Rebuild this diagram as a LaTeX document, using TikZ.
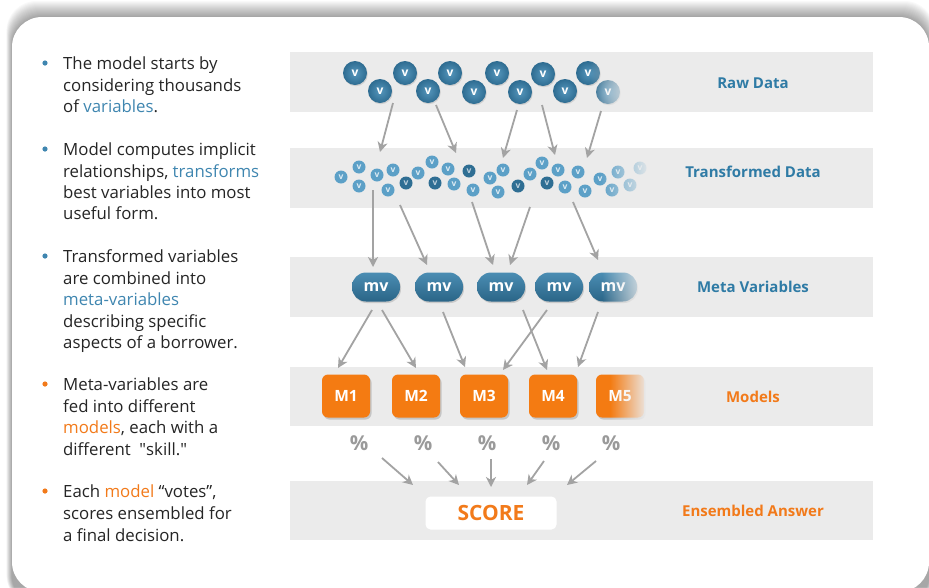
\documentclass[tikz,border=0pt]{standalone}
\usepackage{fontspec}
\setmainfont{Open Sans}
\newfontfamily\plainos{Open Sans}
\usetikzlibrary{arrows.meta,fadings,shadows}
\definecolor{tblue}{HTML}{3F86B0}
\definecolor{lblue}{HTML}{2F7BA5}
\definecolor{torange}{HTML}{F27A1A}
\definecolor{morange}{HTML}{F47B12}
\definecolor{bandgray}{HTML}{EBEBEB}
\definecolor{arrowgray}{HTML}{A3A3A3}
\definecolor{pctgray}{HTML}{9A9A9A}
\definecolor{txt}{HTML}{252525}
\definecolor{rawin}{HTML}{5596BC}
\definecolor{rawout}{HTML}{2E6C91}
\definecolor{trblue}{HTML}{5CA0C7}
\definecolor{trdark}{HTML}{2F6E93}
\definecolor{mvtop}{HTML}{4B8DB3}
\definecolor{mvbot}{HTML}{2A6587}
\tikzfading[name=fadeR, left color=transparent!100, right color=transparent!0]
\tikzset{
  rawc/.style={circle, minimum size=24pt, inner sep=0pt, inner color=rawin, outer color=rawout,
    text=white, font=\bfseries\fontsize{12}{12}\selectfont,
    drop shadow={shadow xshift=0.8pt, shadow yshift=-1.2pt, opacity=0.25}},
  trc/.style={circle, minimum size=13pt, inner sep=0pt, fill=trblue, text=white!80!trblue,
    font=\bfseries\fontsize{8.5}{8.5}\selectfont},
  trd/.style={trc, fill=trdark, text=white!70!trdark},
  mvbox/.style={rectangle, rounded corners=14pt, minimum width=48pt, minimum height=29pt,
    top color=mvtop, bottom color=mvbot, text=white, font=\bfseries\fontsize{16}{16}\selectfont,
    drop shadow={shadow xshift=1pt, shadow yshift=-1.5pt, opacity=0.3}},
  mbox/.style={rectangle, rounded corners=6pt, minimum width=48pt, minimum height=43pt,
    fill=morange, text=white, font=\bfseries\fontsize{15.5}{15.5}\selectfont,
    drop shadow={shadow xshift=1.5pt, shadow yshift=-2pt, opacity=0.35}},
  arr/.style={draw=arrowgray, line width=1.8pt, -{Stealth[length=10pt,width=10pt,inset=3pt]}},
  lab/.style={font=\bfseries\fontsize{15}{15}\selectfont},
  pct/.style={text=pctgray, font=\bfseries\fontsize{20.5}{20.5}\selectfont},
  line/.style={anchor=base west, inner sep=0pt, text=txt, font=\fontsize{16.8}{16.8}\selectfont},
}
\begin{document}
\begin{tikzpicture}[x=1pt,y=-1pt]
\useasboundingbox (0,0) rectangle (929,587);
\fill[white] (0,0) rectangle (929,587);
% card shadow
\foreach \i in {1,...,16}{
  \fill[black, opacity=0.025, rounded corners=30pt] (12-\i*0.35,17-\i) rectangle (929+\i*0.35,605);
}
\fill[white, rounded corners=30pt] (12,17) rectangle (929,592);
% bullets text
\foreach \name/\yy/\txt in {
  l1/64/{The model starts by},
  l2/86/{considering thousands},
  l3/107/{of \textcolor{tblue}{variables}.},
  l4/150/{Model computes implicit},
  l5/172/{relationships, \textcolor{tblue}{transforms}},
  l6/193/{best variables into most},
  l7/214/{useful form.},
  l8/257/{Transformed variables},
  l9/279/{are combined into},
  l10/300/{\textcolor{tblue}{meta-variables}},
  l11/322/{describing specific},
  l12/343/{aspects of a borrower.},
  l13/385/{Meta-variables are},
  l14/407/{fed into different},
  l15/428/{\textcolor{torange}{models}, each with a},
  l16/450/{different\ \ {\plainos"}skill.{\plainos"}},
  l17/492/{Each \textcolor{torange}{model} ``votes'',},
  l18/514/{scores ensembled for},
  l19/536/{a final decision.}}{
  \node[line] (\name) at (63,\yy+5.5) {\txt};
}
\foreach \yy/\c in {63/tblue,149/tblue,256/tblue,384/torange,491/torange}{
  \fill[\c] (45,\yy) circle (2.6pt);
}
% bands
\fill[bandgray] (290,52) rectangle (873,112);
\fill[bandgray] (290,148) rectangle (873,208);
\fill[bandgray] (290,257) rectangle (873,317);
\fill[bandgray] (290,367) rectangle (873,426);
\fill[bandgray] (290,481) rectangle (873,540);
% labels
\node[lab, text=lblue] (lraw) at (753,83) {Raw Data};
\node[lab, text=lblue] (ltr) at (753,172) {Transformed Data};
\node[lab, text=lblue] (lmv) at (753,287) {Meta Variables};
\node[lab, text=torange] (lmod) at (753,397) {Models};
\node[lab, text=torange] (lens) at (753,511) {Ensembled Answer};
% raw data
\foreach \name/\xx/\yy in {r1/355/73, r2/405/73, r3/450/73, r4/497/73, r5/543/74, r6/588/73,
  r7/380/91, r8/428/91, r9/474/92, r10/520/92, r11/565/91, r12/608/92}{
  \node[rawc] (\name) at (\xx,\yy) {v};
}
\fill[bandgray, path fading=fadeR] (590,52) rectangle (630,112);
% transformed
\foreach \name/\xx/\yy in {t1/341/177, t2/359/167, t3/359/186, t4/377/175, t5/388/190, t6/393/170,
  t8/418/173, t9/432/162, t11/448/169, t12/454/184, t14/473/190, t15/490/178,
  t16/498/192, t17/503/170, t19/530/174, t20/542/163, t22/558/170, t23/565/187, t24/578/172,
  t25/585/191, t26/600/179, t27/612/190, t28/618/172, t29/630/185, t30/640/168}{
  \node[trc] (\name) at (\xx,\yy) {v};
}
\foreach \name/\xx/\yy in {t7/406/183, t10/435/183, t13/469/171, t18/518/186, t21/547/183}{
  \node[trd] (\name) at (\xx,\yy) {v};
}
\fill[bandgray, path fading=fadeR] (600,148) rectangle (652,208);
% meta variables
\foreach \name/\xx in {m1/376, m2/439, m3/501, m4/559, m5/613}{
  \node[mvbox] (\name) at (\xx,287) {mv};
}
\fill[bandgray, path fading=fadeR] (602,257) rectangle (648,317);
% models
\foreach \name/\xx/\t in {M1/346/M1, M2/416/M2, M3/484/M3, M4/553/M4, M5/620/M5}{
  \node[mbox] (\name) at (\xx,396) {\t};
}
\fill[bandgray, path fading=fadeR] (610,367) rectangle (648,426);
% percents
\foreach \name/\xx in {p1/359, p2/423, p3/487, p4/551, p5/611}{
  \node[pct] (\name) at (\xx,443) {\%};
}
% score
\node[rectangle, rounded corners=5pt, fill=white, minimum width=131pt, minimum height=33pt,
  text=torange, font=\bfseries\fontsize{21}{21}\selectfont] (score) at (491,513) {SCORE};
% arrows
\foreach \s/\sx/\sy/\e/\ex/\ey in {
  a1s/393/103/a1e/380/152, a2s/436/105/a2e/456/153, a3s/517/110/a3e/503/158,
  a4s/542/105/a4e/555/155, a5s/601/111/a5e/587/158,
  b1s/373/190/b1e/373/267, b2s/400/205/b2e/427/265, b3s/472/202/b3e/493/265,
  b4s/530/207/b4e/510/265, b5s/573/202/b5e/598/260,
  c1s/372/310/c1e/338/368, c2s/382/310/c2e/416/368, c3s/443/312/c3e/465/367,
  c4s/547/310/c4e/503/370, c5s/523/310/c5e/547/370, c6s/598/312/c6e/578/367,
  d1s/382/458/d1e/413/485, d2s/438/462/d2e/459/485, d3s/491/459/d3e/491/487,
  d4s/544/461/d4e/527/485, d5s/596/461/d5e/567/485}{
  \coordinate (\s) at (\sx,\sy);
  \coordinate (\e) at (\ex,\ey);
  \draw[arr] (\s) -- (\e);
}
\end{tikzpicture}
\end{document}
